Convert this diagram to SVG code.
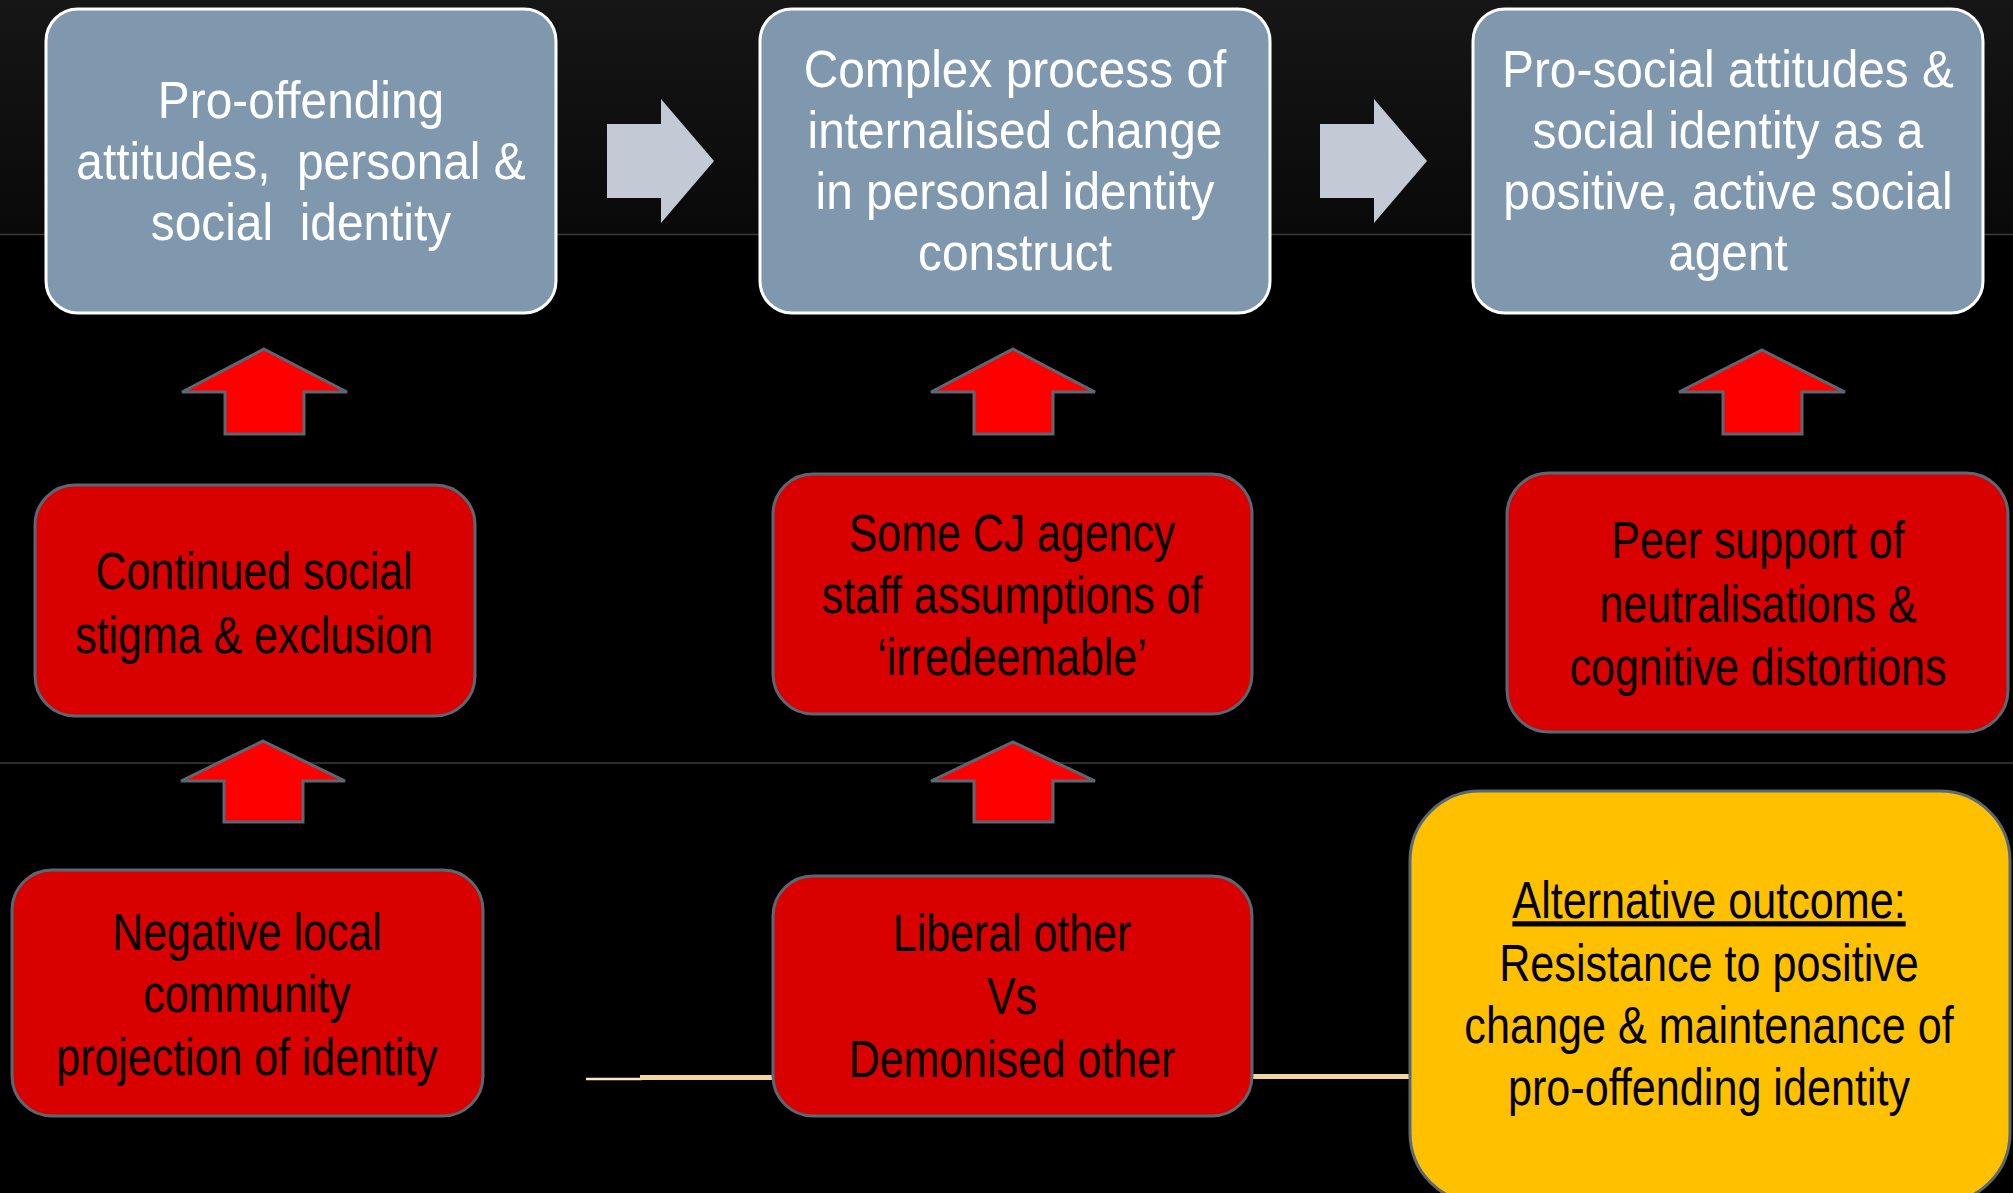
<svg xmlns="http://www.w3.org/2000/svg" width="2013" height="1193" viewBox="0 0 2013 1193">
<defs>
<linearGradient id="bgTop" x1="0" y1="0" x2="0" y2="1">
<stop offset="0" stop-color="#161616"/>
<stop offset="1" stop-color="#090909"/>
</linearGradient>
</defs>
<style>
.top{fill:#8098ae;stroke:#ffffff;stroke-width:3}
.red{fill:#d90000;stroke:#586874;stroke-width:3}
.yel{fill:#ffc000;stroke:#586874;stroke-width:3}
.garrow{fill:#c3cad5}
.rarrow{fill:#ff0000;stroke:#586874;stroke-width:3;stroke-linejoin:miter}
.wt{font-family:"Liberation Sans",Arial,sans-serif;font-size:52px;fill:#ffffff;text-anchor:middle}
.bt{font-family:"Liberation Sans",Arial,sans-serif;font-size:52px;fill:#000000;text-anchor:middle}
.sep{stroke:#3c3c3c;stroke-width:1.5}
</style>
<rect x="0" y="0" width="2013" height="1193" fill="#000000"/>
<rect x="0" y="0" width="2013" height="234" fill="url(#bgTop)"/>
<line class="sep" x1="0" y1="234.5" x2="2013" y2="234.5"/>
<line class="sep" x1="0" y1="763" x2="2013" y2="763"/>

<g id="connectors">
<polygon class="garrow" points="607,124 661,124 661,99 714,161 661,223 661,198 607,198"/>
<polygon class="garrow" points="1320,124 1374,124 1374,99 1427,161 1374,223 1374,198 1320,198"/>
<polygon class="rarrow" points="264,349 347,392 304,392 304,434 225,434 225,392 182,392"/>
<polygon class="rarrow" points="263,741 345,781 303,781 303,822 224,822 224,781 181,781"/>
<polygon class="rarrow" points="1013,349 1095,392 1053,392 1053,434 974,434 974,392 931,392"/>
<polygon class="rarrow" points="1013,742 1095,781 1053,781 1053,822 974,822 974,781 931,781"/>
<polygon class="rarrow" points="1762,350 1845,392 1802,392 1802,434 1723,434 1723,392 1679,392"/>
<line x1="586" y1="1079" x2="642" y2="1079" stroke="#fde8c6" stroke-width="2.5"/>
<line x1="640" y1="1077.5" x2="775" y2="1077.5" stroke="#f4d59f" stroke-width="5"/>
<line x1="1250" y1="1076.5" x2="1412" y2="1076.5" stroke="#f4d59f" stroke-width="5"/>
</g>

<g id="box-pro-offending">
<rect class="top" x="46" y="9" width="510" height="304" rx="32"/>
<g transform="translate(301,0) scale(0.92,1)">
<text class="wt" x="0" y="118">Pro-offending</text>
<text class="wt" x="0" y="179" xml:space="preserve">attitudes,  personal &amp;</text>
<text class="wt" x="0" y="240" xml:space="preserve">social  identity</text>
</g>
</g>

<g id="box-complex-process">
<rect class="top" x="760" y="9" width="510" height="304" rx="32"/>
<g transform="translate(1015,0) scale(0.92,1)">
<text class="wt" x="0" y="87">Complex process of</text>
<text class="wt" x="0" y="148">internalised change</text>
<text class="wt" x="0" y="209">in personal identity</text>
<text class="wt" x="0" y="270">construct</text>
</g>
</g>

<g id="box-pro-social">
<rect class="top" x="1473" y="9" width="510" height="304" rx="32"/>
<g transform="translate(1728,0) scale(0.92,1)">
<text class="wt" x="0" y="87">Pro-social attitudes &amp;</text>
<text class="wt" x="0" y="148">social identity as a</text>
<text class="wt" x="0" y="209">positive, active social</text>
<text class="wt" x="0" y="270">agent</text>
</g>
</g>

<g id="box-continued-stigma">
<rect class="red" x="35" y="485" width="440" height="231" rx="40"/>
<g transform="translate(254,0) scale(0.825,1)">
<text class="bt" x="0" y="589">Continued social</text>
<text class="bt" x="0" y="653">stigma &amp; exclusion</text>
</g>
</g>

<g id="box-cj-agency">
<rect class="red" x="773" y="474" width="479" height="240" rx="40"/>
<g transform="translate(1012,0) scale(0.825,1)">
<text class="bt" x="0" y="551">Some CJ agency</text>
<text class="bt" x="0" y="613">staff assumptions of</text>
<text class="bt" x="0" y="675">‘irredeemable’</text>
</g>
</g>

<g id="box-peer-support">
<rect class="red" x="1507" y="473" width="501" height="259" rx="42"/>
<g transform="translate(1758,0) scale(0.825,1)">
<text class="bt" x="0" y="558">Peer support of</text>
<text class="bt" x="0" y="622">neutralisations &amp;</text>
<text class="bt" x="0" y="685">cognitive distortions</text>
</g>
</g>

<g id="box-negative-community">
<rect class="red" x="12" y="870" width="471" height="246" rx="40"/>
<g transform="translate(247,0) scale(0.825,1)">
<text class="bt" x="0" y="950">Negative local</text>
<text class="bt" x="0" y="1012">community</text>
<text class="bt" x="0" y="1075">projection of identity</text>
</g>
</g>

<g id="box-liberal-other">
<rect class="red" x="773" y="876" width="479" height="240" rx="40"/>
<g transform="translate(1012,0) scale(0.825,1)">
<text class="bt" x="0" y="951">Liberal other</text>
<text class="bt" x="0" y="1014">Vs</text>
<text class="bt" x="0" y="1077">Demonised other</text>
</g>
</g>

<g id="box-alternative-outcome">
<rect class="yel" x="1410" y="791" width="600" height="412" rx="70"/>
<g transform="translate(1709,0) scale(0.83,1)">
<text class="bt" x="0" y="918" text-decoration="underline">Alternative outcome:</text>
<text class="bt" x="0" y="981">Resistance to positive</text>
<text class="bt" x="0" y="1043">change &amp; maintenance of</text>
<text class="bt" x="0" y="1105">pro-offending identity</text>
</g>
</g>
</svg>
